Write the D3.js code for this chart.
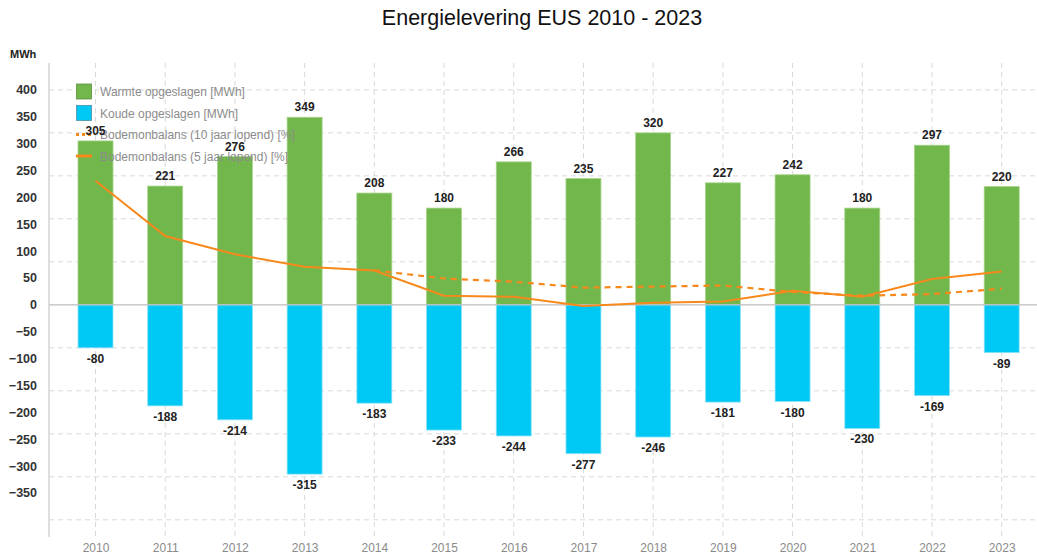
<!DOCTYPE html>
<html>
<head>
<meta charset="utf-8">
<script src="https://cdn.jsdelivr.net/npm/d3@7"></script>
<style>
html,body{margin:0;padding:0;background:#fff;}
svg{display:block;font-family:"Liberation Sans",Arial,sans-serif;}
</style>
</head>
<body>
<svg id="chart" width="1037" height="556"></svg>
<script>
const years = ["2010","2011","2012","2013","2014","2015","2016","2017","2018","2019","2020","2021","2022","2023"];
const warmte = [305,221,276,349,208,180,266,235,320,227,242,180,297,220];
const koude = [-80,-188,-214,-315,-183,-233,-244,-277,-246,-181,-180,-230,-169,-89];
const balans5 = [231,128,94,71,64,17,15,-2,4,6,26,15,48,62];
const balans10 = [null,null,null,null,64,49,43,32,34,36,24,17,20,30];
const yTicks = [400,350,300,250,200,150,100,50,0,-50,-100,-150,-200,-250,-300,-350];
const gridValues = [400,320,240,160,80,-80,-160,-240,-320,-400];
const legendLabels = ["Warmte opgeslagen [MWh]","Koude opgeslagen [MWh]","Bodemonbalans (10 jaar lopend) [%]","Bodemonbalans (5 jaar lopend) [%]"];
const title = "Energielevering EUS 2010 - 2023";
const unitLabel = "MWh";

(function () {
const green = "#72b74b", cyan = "#00c8f4", orange = "#f7891c";
const svg = d3.select("#chart");
const pL = 49, pT = 63, pB = 537, pR = 1048;

const x = d3.scalePoint().domain(years).range([95.5, 1001.7]);
const step = x.step();
const barW = step * 0.502;
const y = d3.scaleLinear().domain([-432, 450]).range([pB, pT]);

// title
svg.append("text").attr("x", 542).attr("y", 25).attr("text-anchor", "middle")
  .attr("font-size", 21.5).attr("fill", "#111").text(title);
svg.append("text").attr("x", 10).attr("y", 58).attr("font-size", 11).attr("font-weight", "bold")
  .attr("fill", "#222").text(unitLabel);

// grid
const g = svg.append("g");
g.selectAll(".hg").data(gridValues).join("line")
  .attr("x1", pL).attr("x2", pR).attr("y1", d => y(d)).attr("y2", d => y(d))
  .attr("stroke", "#d9d9d9").attr("stroke-dasharray", "5,4").attr("stroke-width", 1);
g.selectAll(".vg").data(years).join("line")
  .attr("x1", d => x(d)).attr("x2", d => x(d)).attr("y1", pT).attr("y2", pB + 3)
  .attr("stroke", "#d9d9d9").attr("stroke-dasharray", "5,4").attr("stroke-width", 1);

// bars
svg.append("g").selectAll("rect").data(years).join("rect")
  .attr("x", d => x(d) - barW / 2).attr("width", barW)
  .attr("y", (d, i) => y(warmte[i])).attr("height", (d, i) => y(0) - y(warmte[i]))
  .attr("fill", green).attr("stroke", "#a6d48c").attr("stroke-width", 0.8);
svg.append("g").selectAll("rect").data(years).join("rect")
  .attr("x", d => x(d) - barW / 2).attr("width", barW)
  .attr("y", y(0)).attr("height", (d, i) => y(koude[i]) - y(0))
  .attr("fill", cyan).attr("stroke", "#8fe3f8").attr("stroke-width", 0.8);

// zero line and y axis line
svg.append("line").attr("x1", pL).attr("x2", pR).attr("y1", y(0)).attr("y2", y(0))
  .attr("stroke", "#bdbdbd").attr("stroke-width", 1.2);
svg.append("line").attr("x1", pL).attr("x2", pL).attr("y1", pT).attr("y2", pB)
  .attr("stroke", "#c8c8c8").attr("stroke-width", 1.2);

// y axis tick labels
const yAxis = d3.axisLeft(y).tickValues(yTicks).tickSize(0).tickPadding(12);
const ya = svg.append("g").attr("transform", `translate(${pL},0)`).call(yAxis);
ya.select(".domain").remove();
ya.selectAll("text").attr("font-size", 12.5).attr("font-weight", "bold").attr("fill", "#333")
  .attr("font-family", "Liberation Sans, Arial, sans-serif");

// x axis labels
const xAxis = d3.axisBottom(x).tickSize(0).tickPadding(6);
const xa = svg.append("g").attr("transform", `translate(0,${pB})`).call(xAxis);
xa.select(".domain").remove();
xa.selectAll("text").attr("font-size", 12).attr("fill", "#8a8a8a")
  .attr("font-family", "Liberation Sans, Arial, sans-serif");

// lines
const line = d3.line().defined(d => d.v !== null).x(d => x(d.k)).y(d => y(d.v));
svg.append("path").datum(years.map((k, i) => ({k, v: balans10[i]})))
  .attr("d", line).attr("fill", "none").attr("stroke", orange).attr("stroke-width", 2.2)
  .attr("stroke-dasharray", "6,5");
svg.append("path").datum(years.map((k, i) => ({k, v: balans5[i]})))
  .attr("d", line).attr("fill", "none").attr("stroke", orange).attr("stroke-width", 2);

// legend
const lg = svg.append("g");
legendLabels.forEach((lab, i) => {
  const cy = 91.5 + i * 21.5;
  if (i < 2) {
    lg.append("rect").attr("x", 76.5).attr("y", cy - 7.5).attr("width", 15).attr("height", 15)
      .attr("fill", i === 0 ? green : cyan).attr("stroke", i === 0 ? "#5b8f3d" : "#4a8fa8").attr("stroke-width", 0.8);
  } else {
    lg.append("line").attr("x1", 76).attr("x2", 92).attr("y1", cy).attr("y2", cy)
      .attr("stroke", orange).attr("stroke-width", 3)
      .attr("stroke-dasharray", i === 2 ? "3,3" : null);
  }
  lg.append("text").attr("x", 100).attr("y", cy + 4.5).attr("font-size", 12)
    .attr("fill", "#8c8c8c").text(lab);
});

// value labels
svg.append("g").selectAll("text").data(years).join("text")
  .attr("x", d => x(d)).attr("y", (d, i) => y(warmte[i]) - 6)
  .attr("text-anchor", "middle").attr("font-size", 12).attr("font-weight", "bold").attr("fill", "#222")
  .text((d, i) => warmte[i]);
svg.append("g").selectAll("text").data(years).join("text")
  .attr("x", d => x(d)).attr("y", (d, i) => y(koude[i]) + 15)
  .attr("text-anchor", "middle").attr("font-size", 12).attr("font-weight", "bold").attr("fill", "#222")
  .text((d, i) => koude[i]);
})();
</script>
</body>
</html>
